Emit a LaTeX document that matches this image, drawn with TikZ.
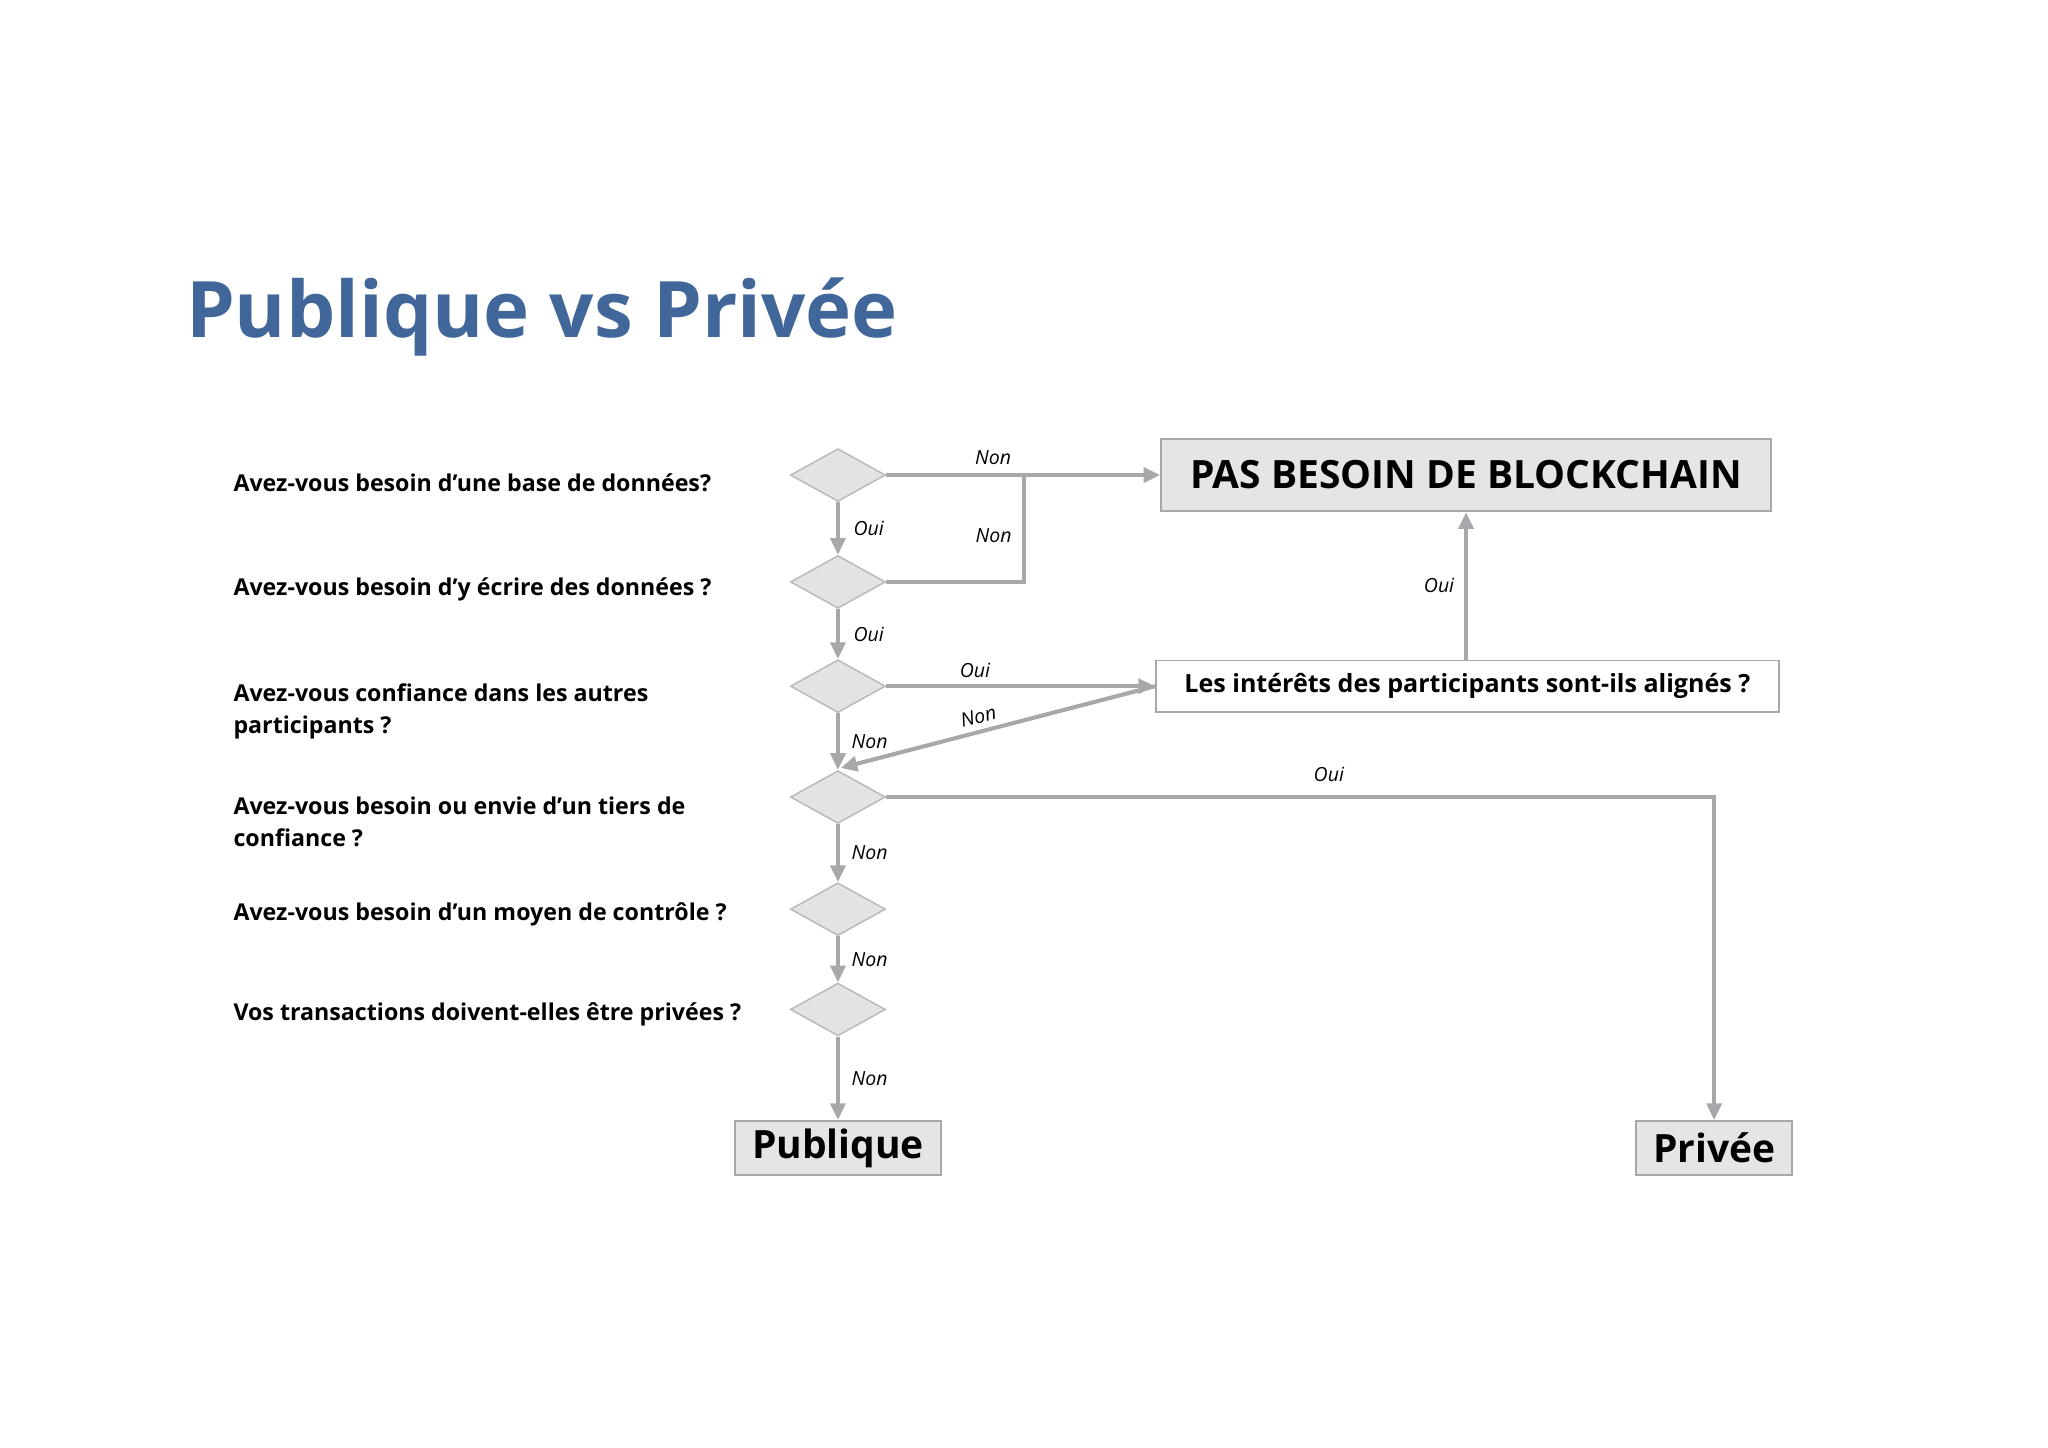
\documentclass[tikz,border=0pt]{standalone}
\usepackage{fontspec}
\setmainfont{Open Sans}
\usetikzlibrary{shapes.geometric,arrows.meta}
\definecolor{ttl}{HTML}{41679A}
\definecolor{ln}{HTML}{A8A8AC}
\begin{document}
\begin{tikzpicture}[x=0.025cm,y=-0.025cm,
  dia/.style={diamond,draw=ln!80,fill=black!11,line width=0.8pt,minimum width=72*0.025cm,minimum height=40*0.025cm,inner sep=0pt,aspect=1.8},
  q/.style={anchor=west,font=\fontsize{12.5}{17}\selectfont\bfseries,align=left},
  lab/.style={font=\fontsize{10.5}{12}\selectfont\itshape},
  arr/.style={draw=ln,line width=2.2pt,-{Triangle[length=9pt,width=8pt]}},
  ln2/.style={draw=ln,line width=2.2pt},
  bx/.style={draw=ln,line width=1pt,inner sep=0pt}]
\useasboundingbox (0,0) rectangle (1552,1097);
\node[anchor=west,text=ttl,font=\fontsize{42}{48}\selectfont\bfseries] (t) at (136,240) {Publique vs Privée};
\node[q] (q1) at (172,366) {Avez-vous besoin d’une base de données?};
\node[q] (q2) at (172,447) {Avez-vous besoin d’y écrire des données ?};
\node[q] (q3) at (172,539) {Avez-vous confiance dans les autres\\participants ?};
\node[q] (q4) at (172,623) {Avez-vous besoin ou envie d’un tiers de\\confiance ?};
\node[q] (q5) at (172,693) {Avez-vous besoin d’un moyen de contrôle ?};
\node[q] (q6) at (172,769) {Vos transactions doivent-elles être privées ?};
\foreach \i/\y in {1/360,2/441,3/520,4/604,5/689,6/765}{\node[dia] (d\i) at (635,\y) {};}
\node[bx,fill=black!10,minimum width=462*0.025cm,minimum height=55*0.025cm,font=\fontsize{21}{24}\selectfont\bfseries] (pas) at (1111,360) {PAS BESOIN DE BLOCKCHAIN};
\node[bx,fill=white,minimum width=472*0.025cm,minimum height=39*0.025cm,font=\fontsize{13.5}{16}\selectfont\bfseries] (int) at (1112,520) {Les intérêts des participants sont-ils alignés ?};
\node[bx,fill=black!10,minimum width=156*0.025cm,minimum height=41*0.025cm,font=\fontsize{21}{24}\selectfont\bfseries] (pub) at (635,870) {Publique};
\node[bx,fill=black!10,minimum width=118*0.025cm,minimum height=41*0.025cm,font=\fontsize{21}{24}\selectfont\bfseries] (pri) at (1299,870) {Privée};
\coordinate (j) at (776,360);
\coordinate (c4) at (1299,604);
\coordinate (hit) at (637,582);
\draw[arr] (d1.east) -- (pas.west) node[lab,pos=0.39,above=1pt] {Non};
\draw[ln2] (d2.east) -- (d2.east -| j) -- (j);
\node[lab] at (753,406) {Non};
\draw[arr] (d1.south) -- (d2.north) node[lab,midway,right=4pt] {Oui};
\draw[arr] (d2.south) -- (d3.north) node[lab,midway,right=4pt] {Oui};
\draw[arr] (d3.east) -- (int.west) node[lab,pos=0.33,above=0pt] {Oui};
\draw[arr] (int.north -| pas.south) -- (pas.south) node[lab,midway,left=2pt] {Oui};
\draw[arr] (int.west) -- (hit) node[lab,pos=0.55,above=0pt,sloped] {Non};
\draw[arr] (d3.south) -- (d4.north) node[lab,midway,right=3pt] {Non};
\draw[arr] (d4.east) -- (c4) -- (pri.north);
\node[lab] at (1007,587) {Oui};
\draw[arr] (d4.south) -- (d5.north) node[lab,midway,right=3pt] {Non};
\draw[arr] (d5.south) -- (d6.north) node[lab,midway,right=3pt] {Non};
\draw[arr] (d6.south) -- (pub.north) node[lab,midway,right=3pt] {Non};
\end{tikzpicture}
\end{document}
